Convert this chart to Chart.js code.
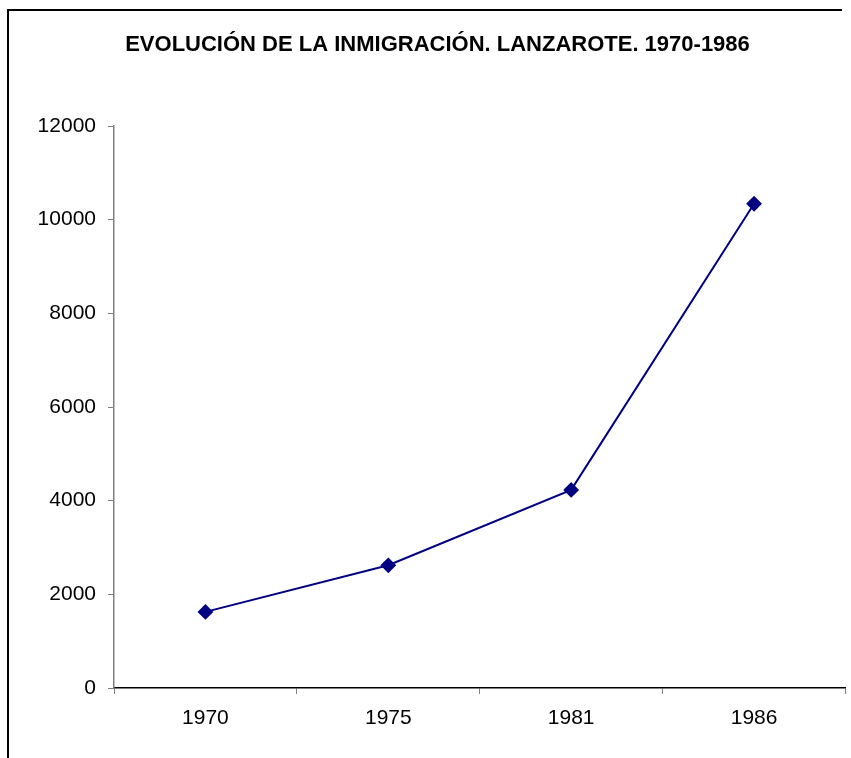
<!DOCTYPE html>
<html>
<head>
<meta charset="utf-8">
<script src="https://cdn.jsdelivr.net/npm/chart.js@4.4.1/dist/chart.umd.min.js"></script>
<style>
  html, body { margin: 0; padding: 0; background: #fff; }
  #wrap { position: relative; width: 851px; height: 758px; overflow: hidden; }
  #frame {
    position: absolute; left: 7px; top: 9px; width: 835px; height: 760px;
    border-top: 2px solid #000; border-left: 2px solid #000; box-sizing: border-box;
  }
  #chart { position: absolute; left: 0; top: 0; }
</style>
</head>
<body>
<div id="wrap">
  <div id="frame"></div>
  <canvas id="chart" width="854" height="758"></canvas>
</div>
<script>
const TITLE      = "EVOLUCIÓN DE LA INMIGRACIÓN. LANZAROTE. 1970-1986";
const YEARS      = ["1970", "1975", "1981", "1986"];
const IMMIGRANTS = [1625, 2620, 4230, 10340];
const Y_MIN  = 0;
const Y_MAX  = 12000;
const Y_STEP = 2000;

const FONT = "'Liberation Sans', Arial, sans-serif";

const ctx = document.getElementById("chart").getContext("2d");
new Chart(ctx, {
  type: "line",
  data: {
    labels: YEARS,
    datasets: [{
      label: "Inmigración",
      data: IMMIGRANTS,
      borderColor: "#000080",
      backgroundColor: "#000080",
      borderWidth: 2,
      pointStyle: "rectRot",
      pointRadius: 6.5,
      pointHoverRadius: 6.5,
      tension: 0,
    }],
  },
  options: {
    responsive: false,
    animation: false,
    // left padding shifts the title centre; y-axis width compensates
    layout: { padding: { left: 26, right: 5, top: 0, bottom: 0 } },
    plugins: {
      legend: { display: false },
      tooltip: { enabled: false },
      title: {
        display: true,
        text: TITLE,
        color: "#000",
        font: { family: FONT, size: 22, weight: "bold", lineHeight: 1.2 },
        padding: { top: 32, bottom: 67.6 },
      },
    },
    scales: {
      x: {
        type: "category",
        offset: true,
        grid: {
          offset: true,
          drawOnChartArea: false,
          drawTicks: true,
          tickLength: 6,
          tickColor: "#808080",
        },
        border: { display: true, color: "#000", width: 1.5 },
        ticks: { color: "#000", font: { family: FONT, size: 21 }, padding: 12 },
        afterFit: (s) => { s.height = 70; s.paddingLeft = 0; s.paddingRight = 0; },
      },
      y: {
        min: Y_MIN,
        max: Y_MAX,
        grid: {
          drawOnChartArea: false,
          drawTicks: true,
          tickLength: 6,
          tickColor: "#808080",
        },
        border: { display: true, color: "#808080", width: 1.5 },
        ticks: {
          stepSize: Y_STEP,
          color: "#000",
          font: { family: FONT, size: 21 },
          padding: 12,
          callback: (v) => String(v),
        },
        afterFit: (s) => { s.width = 88; },
      },
    },
  },
});
</script>
</body>
</html>
